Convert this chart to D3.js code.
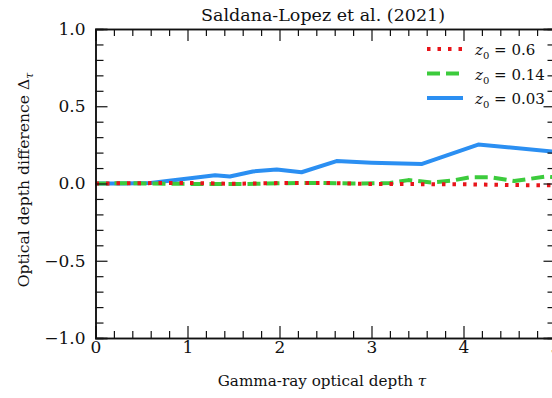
<!DOCTYPE html>
<html>
<head>
<meta charset="utf-8">
<script src="https://cdn.jsdelivr.net/npm/d3@7"></script>
<style>
  body { margin: 0; background: #fff; overflow: hidden; }
  svg text { font-family: "DejaVu Serif", "Liberation Serif", serif; fill: #111; }
</style>
</head>
<body>
<div id="chart"></div>
<script>
// optical depth difference vs gamma-ray optical depth

const xMajor = [0, 1, 2, 3, 4, 5];
const yMajor = [-1.0, -0.5, 0.0, 0.5, 1.0];
const yTickLabels = ['\u22121.0', '\u22120.5', '0.0', '0.5', '1.0'];

// z0 = 0.6 (red, dotted)
const tau06 = [0, 0.5, 1.0, 1.5, 2.0, 2.5, 3.0, 3.5, 4.0, 4.5, 5.0];
const delta06 = [0, 0.002, 0.004, -0.002, 0.003, 0.004, -0.003, -0.004, -0.005, -0.01, -0.012];

// z0 = 0.14 (green, dashed)
const tau014 = [0, 0.4, 0.8, 1.2, 1.6, 2.0, 2.4, 2.8, 3.2, 3.4, 3.65, 3.87, 4.07, 4.3, 4.55, 4.9, 5.0];
const delta014 = [0, 0.002, -0.002, -0.003, -0.004, 0.002, 0.004, 0.0, 0.003, 0.022, 0.007, 0.018, 0.04, 0.04, 0.016, 0.045, 0.04];

// z0 = 0.03 (blue, solid)
const tau003 = [0, 0.3, 0.6, 0.8, 1.03, 1.3, 1.46, 1.71, 1.97, 2.24, 2.62, 3.0, 3.55, 4.16, 5.0];
const delta003 = [0.0, 0.0, 0.003, 0.018, 0.034, 0.053, 0.045, 0.078, 0.09, 0.073, 0.145, 0.135, 0.127, 0.252, 0.205];

const series = [
  { z: '0.6', tau: tau06, delta: delta06, color: '#e8141a', dash: '3.5 7' },
  { z: '0.14', tau: tau014, delta: delta014, color: '#3ccb3c', dash: '13 6' },
  { z: '0.03', tau: tau003, delta: delta003, color: '#2b8ff2', dash: null }
];

const width = 552, height = 398;
const m = { left: 95.5, right: 555.5, top: 29, bottom: 338 };

const svg = d3.select('#chart').append('svg')
  .attr('width', width)
  .attr('height', height);

const x = d3.scaleLinear().domain([0, 5]).range([m.left, m.right]);
const y = d3.scaleLinear().domain([-1, 1]).range([m.bottom, m.top]);

const xMinor = d3.range(0, 5.001, 0.2).filter(v => Math.abs(v - Math.round(v)) > 1e-6);
const yMinor = d3.range(-1, 1.001, 0.1).filter(v => Math.abs(v * 2 - Math.round(v * 2)) > 1e-6);

// lines (blue underneath, red dots on top)
const line = d3.line()
  .x(d => x(d[0]))
  .y(d => y(d[1]));

series.slice().reverse().forEach(s => {
  const pts = s.tau.map((t, i) => [t, s.delta[i]]);
  const p = svg.append('path')
    .datum(pts)
    .attr('fill', 'none')
    .attr('stroke', s.color)
    .attr('stroke-width', 4)
    .attr('stroke-linejoin', 'round')
    .attr('d', line);
  if (s.dash) p.attr('stroke-dasharray', s.dash);
});

// axes, ticks inward
function styleAxis(g) {
  g.select('.domain').attr('stroke', '#111').attr('stroke-width', 1.5);
  g.selectAll('.tick line').attr('stroke', '#111').attr('stroke-width', 1.2);
  g.selectAll('.tick text').attr('font-size', 17).attr('font-family', '"DejaVu Serif", serif');
}

svg.append('g').attr('transform', `translate(0,${m.bottom})`)
  .call(d3.axisBottom(x).tickValues(xMajor).tickSize(-12).tickPadding(3).tickFormat(d3.format('d')))
  .call(styleAxis);
svg.append('g').attr('transform', `translate(0,${m.bottom})`)
  .call(d3.axisBottom(x).tickValues(xMinor).tickSize(-7).tickFormat(''))
  .call(styleAxis);
svg.append('g').attr('transform', `translate(0,${m.top})`)
  .call(d3.axisTop(x).tickValues(xMajor).tickSize(-12).tickFormat(''))
  .call(styleAxis);
svg.append('g').attr('transform', `translate(0,${m.top})`)
  .call(d3.axisTop(x).tickValues(xMinor).tickSize(-7).tickFormat(''))
  .call(styleAxis);

svg.append('g').attr('transform', `translate(${m.left},0)`)
  .call(d3.axisLeft(y).tickValues(yMajor).tickSize(-12).tickPadding(10)
    .tickFormat((d, i) => yTickLabels[i]))
  .call(styleAxis);
svg.append('g').attr('transform', `translate(${m.left},0)`)
  .call(d3.axisLeft(y).tickValues(yMinor).tickSize(-8).tickFormat(''))
  .call(styleAxis);
svg.append('g').attr('transform', `translate(${m.right},0)`)
  .call(d3.axisRight(y).tickValues(yMajor).tickSize(-12).tickFormat(''))
  .call(styleAxis);
svg.append('g').attr('transform', `translate(${m.right},0)`)
  .call(d3.axisRight(y).tickValues(yMinor).tickSize(-8).tickFormat(''))
  .call(styleAxis);

// title
svg.append('text')
  .attr('x', 323)
  .attr('y', 21)
  .attr('text-anchor', 'middle')
  .attr('font-size', 17.5)
  .text('Saldana-Lopez et al. (2021)');

// x label
const xl = svg.append('text')
  .attr('x', 322)
  .attr('y', 386)
  .attr('text-anchor', 'middle')
  .attr('font-size', 15.2);
xl.append('tspan').text('Gamma-ray optical depth ');
xl.append('tspan').attr('font-style', 'italic').text('\u03c4');

// y label
const yl = svg.append('text')
  .attr('transform', 'translate(29,180) rotate(-90)')
  .attr('text-anchor', 'middle')
  .attr('font-size', 15.6);
yl.append('tspan').text('Optical depth difference \u0394');
yl.append('tspan').attr('font-size', 11).attr('font-style', 'italic').attr('dy', 4).text('\u03c4');

// legend
const legend = svg.append('g');
series.forEach((s, i) => {
  const ly = 49 + i * 24.5;
  const l = legend.append('line')
    .attr('x1', 427).attr('x2', 463)
    .attr('y1', ly).attr('y2', ly)
    .attr('stroke', s.color)
    .attr('stroke-width', 4);
  if (s.dash) l.attr('stroke-dasharray', s.dash);
  const t = legend.append('text')
    .attr('x', 475)
    .attr('y', ly + 6)
    .attr('font-size', 15);
  t.append('tspan').attr('font-style', 'italic').text('z');
  t.append('tspan').attr('font-size', 10).attr('dy', 4).text('0');
  t.append('tspan').attr('dy', -4).text(' = ' + s.z);
});
</script>
</body>
</html>
